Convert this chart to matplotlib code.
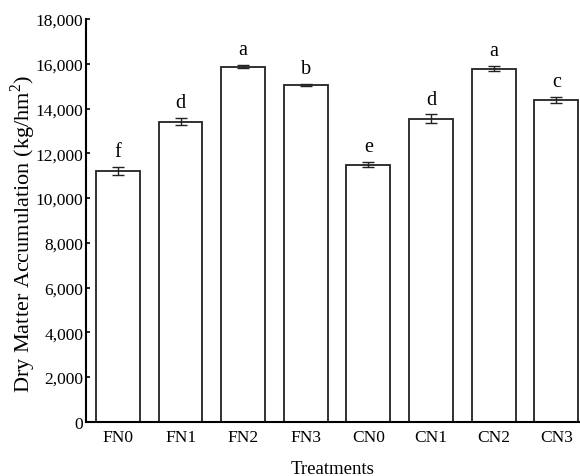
import matplotlib
matplotlib.use("Agg")
import numpy as np
import matplotlib.pyplot as plt

plt.rcParams['font.family'] = ['Liberation Serif', 'DejaVu Serif']
plt.rcParams['mathtext.fontset'] = 'custom'
plt.rcParams['mathtext.rm'] = 'Liberation Serif'

# Data
treatments = ["FN0", "FN1", "FN2", "FN3", "CN0", "CN1", "CN2", "CN3"]
dry_matter = [11210, 13420, 15880, 15060, 11500, 13550, 15790, 14390]
errors = [190, 170, 80, 60, 120, 195, 125, 140]
letters = ["f", "d", "a", "b", "e", "d", "a", "c"]

fig = plt.figure(figsize=(5.8, 4.77), dpi=100)
ax = fig.add_axes([0.1483, 0.1138, 0.8517, 0.844])

x = np.arange(len(treatments))
ax.bar(x, dry_matter, width=0.7, color="white", edgecolor="#222222", linewidth=1.3,
       yerr=errors, error_kw=dict(ecolor="#222222", elinewidth=1.0, capsize=4, capthick=1.0))

for xi, v, e, lab in zip(x, dry_matter, errors, letters):
    ax.annotate(lab, (xi, v + e), xytext=(0, 4), textcoords="offset points",
                ha="center", va="bottom", fontsize=14.5)

ax.set_xlim(-0.51, 7.38)
ax.set_ylim(0, 18000)
ax.set_yticks(np.arange(0, 18001, 2000))
ax.set_yticklabels([f"{int(t):,}" for t in np.arange(0, 18001, 2000)])
ax.set_xticks(x)
ax.set_xticklabels(treatments)

ax.spines['top'].set_visible(False)
ax.spines['right'].set_visible(False)
ax.spines['left'].set_linewidth(1.5)
ax.spines['bottom'].set_linewidth(1.5)
ax.tick_params(axis='y', direction='in', length=3, width=1.2, labelsize=12.5, pad=2)
ax.tick_params(axis='x', length=0, labelsize=12.5, pad=5)

ax.set_xlabel("Treatments", fontsize=13.5)
ax.xaxis.set_label_coords(0.5, -0.095)
ax.set_ylabel("Dry Matter Accumulation (kg/hm$^{2}$)", fontsize=16)
ax.yaxis.set_label_coords(-0.097, 0.469)

fig.savefig("out.png", dpi=100)
